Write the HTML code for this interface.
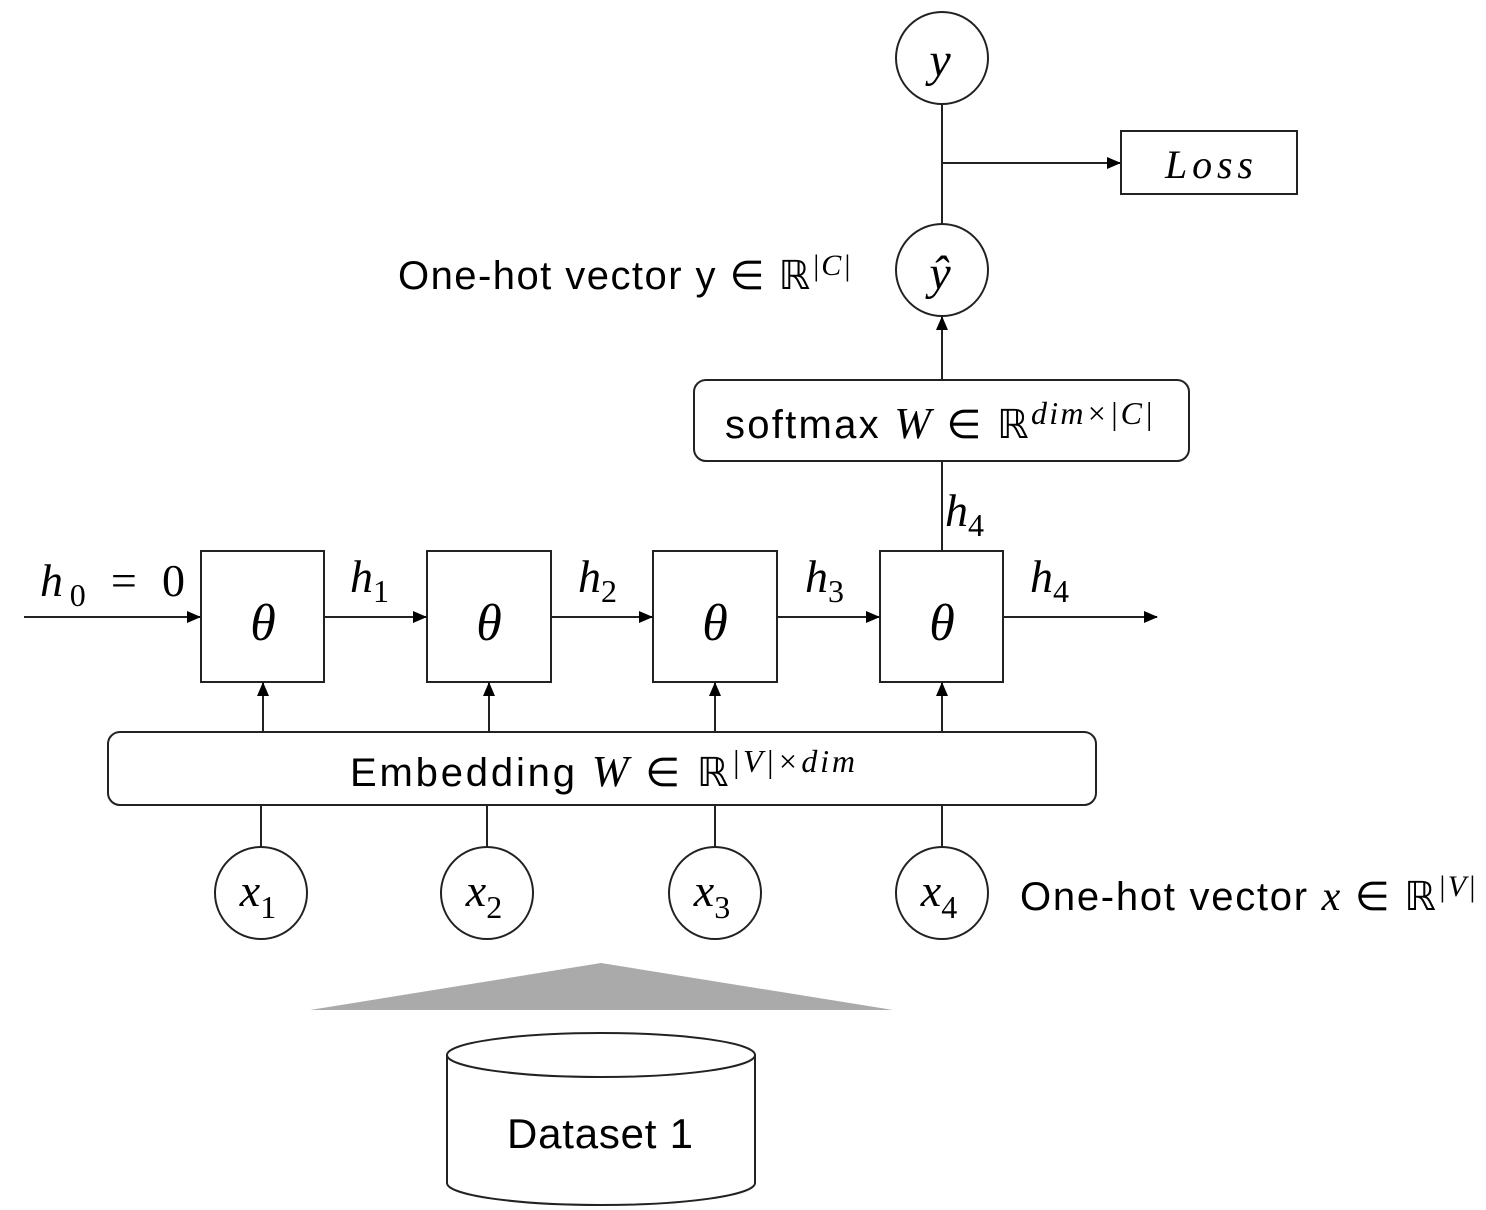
<!DOCTYPE html>
<html><head><meta charset="utf-8"><style>
html,body{margin:0;padding:0;background:#fff;}
svg{display:block}
.m{font-family:"Liberation Serif",serif;font-style:italic;}
.s{font-family:"Liberation Sans",sans-serif;}
</style></head><body>
<svg width="1486" height="1210" viewBox="0 0 1486 1210" xmlns="http://www.w3.org/2000/svg">
<defs>
<marker id="b" markerWidth="14" markerHeight="14" refX="13" refY="7" orient="auto" markerUnits="userSpaceOnUse" viewBox="0 0 14 14"><path d="M0,1 L14,7 L0,13 z" fill="#000"/></marker></defs>
<g stroke="#222" stroke-width="2" fill="none">
<circle cx="942" cy="58" r="46"/>
<circle cx="942" cy="270" r="46"/>
<line x1="942" y1="104" x2="942" y2="224"/>
<line x1="942" y1="163" x2="1120" y2="163" marker-end="url(#b)"/>
<rect x="1121" y="131" width="176" height="63"/>
<rect x="694" y="380" width="495" height="81" rx="12"/>
<line x1="942" y1="380" x2="942" y2="317" marker-end="url(#b)"/>
<line x1="942" y1="551" x2="942" y2="461"/>
<rect x="201" y="551" width="123" height="131"/>
<rect x="427" y="551" width="124" height="131"/>
<rect x="653" y="551" width="124" height="131"/>
<rect x="880" y="551" width="123" height="131"/>
<line x1="24" y1="617" x2="200" y2="617" marker-end="url(#b)"/>
<line x1="324" y1="617" x2="426" y2="617" marker-end="url(#b)"/>
<line x1="551" y1="617" x2="652" y2="617" marker-end="url(#b)"/>
<line x1="777" y1="617" x2="879" y2="617" marker-end="url(#b)"/>
<line x1="1003" y1="617" x2="1157" y2="617" marker-end="url(#b)"/>
<rect x="108" y="732" width="988" height="73" rx="12"/>
<line x1="263" y1="732" x2="263" y2="683" marker-end="url(#b)"/>
<line x1="489" y1="732" x2="489" y2="683" marker-end="url(#b)"/>
<line x1="715" y1="732" x2="715" y2="683" marker-end="url(#b)"/>
<line x1="942" y1="732" x2="942" y2="683" marker-end="url(#b)"/>
<line x1="261" y1="805" x2="261" y2="847"/>
<line x1="487" y1="805" x2="487" y2="847"/>
<line x1="715" y1="805" x2="715" y2="847"/>
<line x1="942" y1="805" x2="942" y2="847"/>
<circle cx="261" cy="893" r="46"/>
<circle cx="487" cy="893" r="46"/>
<circle cx="715" cy="893" r="46"/>
<circle cx="942" cy="893" r="46"/>
<path d="M447,1055 L447,1183 A154,22 0 0 0 755,1183 L755,1055"/>
<ellipse cx="601" cy="1055" rx="154" ry="22"/>
</g>
<polygon points="601,963 310,1010 893,1010" fill="#aaa"/>
<g fill="#000">
<text class="m" x="940" y="76" font-size="48" text-anchor="middle">y</text>
<text class="m" x="940" y="289" font-size="48" text-anchor="middle">ŷ</text>
<text class="m" x="1209" y="178" font-size="40" text-anchor="middle" textLength="88" lengthAdjust="spacing">Loss</text>
<text class="s" x="398" y="289" font-size="40" letter-spacing="-1" textLength="452" lengthAdjust="spacing">One-hot vector y ∈ ℝ<tspan class="m" font-size="30" dy="-14">|C|</tspan></text>
<text class="s" x="725" y="438" font-size="40" textLength="428" lengthAdjust="spacing">softmax <tspan class="m" font-size="44">W</tspan> ∈ ℝ<tspan class="m" font-size="32" dy="-14">dim×|C|</tspan></text>
<text class="m" x="945" y="526" font-size="46">h<tspan font-size="32" font-style="normal" dy="10">4</tspan></text>
<text class="m" x="40" y="596" font-size="46" textLength="145" lengthAdjust="spacing">h<tspan font-size="32" font-style="normal" dy="10">0</tspan><tspan font-style="normal" dy="-10"> = 0</tspan></text>
<text class="m" x="350" y="592" font-size="46">h<tspan font-size="32" font-style="normal" dy="10">1</tspan></text>
<text class="m" x="578" y="592" font-size="46">h<tspan font-size="32" font-style="normal" dy="10">2</tspan></text>
<text class="m" x="805" y="592" font-size="46">h<tspan font-size="32" font-style="normal" dy="10">3</tspan></text>
<text class="m" x="1030" y="592" font-size="46">h<tspan font-size="32" font-style="normal" dy="10">4</tspan></text>
<text class="m" x="263" y="640" font-size="52" text-anchor="middle">θ</text>
<text class="m" x="489" y="640" font-size="52" text-anchor="middle">θ</text>
<text class="m" x="715" y="640" font-size="52" text-anchor="middle">θ</text>
<text class="m" x="942" y="640" font-size="52" text-anchor="middle">θ</text>
<text class="s" x="350" y="786" font-size="40" textLength="505" lengthAdjust="spacing">Embedding <tspan class="m" font-size="44">W</tspan> ∈ ℝ<tspan class="m" font-size="32" dy="-14">|V|×dim</tspan></text>
<text class="m" x="258" y="906" font-size="46" text-anchor="middle">x<tspan font-size="32" font-style="normal" dy="12">1</tspan></text>
<text class="m" x="484" y="906" font-size="46" text-anchor="middle">x<tspan font-size="32" font-style="normal" dy="12">2</tspan></text>
<text class="m" x="712" y="906" font-size="46" text-anchor="middle">x<tspan font-size="32" font-style="normal" dy="12">3</tspan></text>
<text class="m" x="939" y="906" font-size="46" text-anchor="middle">x<tspan font-size="32" font-style="normal" dy="12">4</tspan></text>
<text class="s" x="1020" y="910" font-size="40" letter-spacing="-1" textLength="455" lengthAdjust="spacing">One-hot vector <tspan class="m" font-size="42">x</tspan> ∈ ℝ<tspan class="m" font-size="30" dy="-14">|V|</tspan></text>
<text class="s" x="600" y="1148" font-size="42" text-anchor="middle" textLength="186" lengthAdjust="spacing">Dataset 1</text>
</g>
</svg>
</body></html>
